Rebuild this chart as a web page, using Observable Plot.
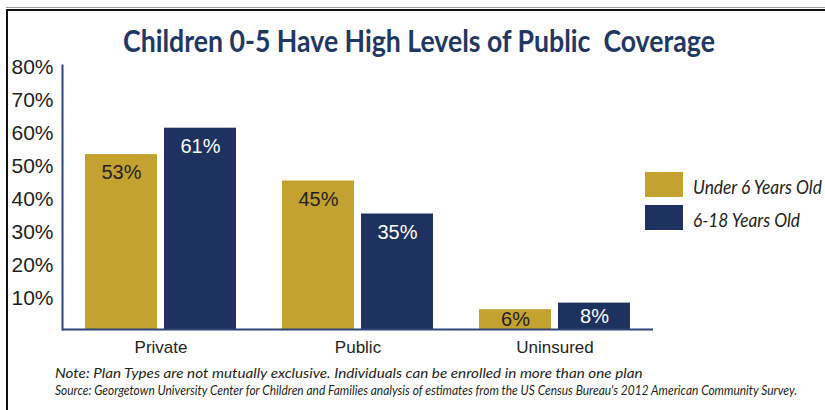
<!DOCTYPE html>
<html><head><meta charset="utf-8">
<script src="https://cdn.jsdelivr.net/npm/d3@7"></script>
<script src="https://cdn.jsdelivr.net/npm/@observablehq/plot@0.6"></script>
<style>
body{margin:0;background:#fff;}
#wrap{position:relative;width:825px;height:410px;overflow:hidden;font-family:"Liberation Sans",sans-serif;background:#fff;}
#wrap svg{position:absolute;left:0;top:0;}
</style></head><body><div id="wrap"></div>
<script>
const categories = ["Private", "Public", "Uninsured"];
const seriesNames = ["Under 6 Years Old", "6-18 Years Old"];
const under6 = [53, 45, 6];
const age6to18 = [61, 35, 8];
const yTicks = [10, 20, 30, 40, 50, 60, 70, 80];
const colors = ["#C4A22F", "#1E3260"];
const titleText = "Children 0-5 Have High Levels of Public  Coverage";
const noteText = "Note: Plan Types are not mutually exclusive. Individuals can be enrolled in more than one plan";
const sourceText = "Source: Georgetown University Center for Children and Families analysis of estimates from the US Census Bureau's 2012 American Community Survey.";

const data = categories.flatMap((c, i) => [
  {category: c, series: seriesNames[0], value: under6[i]},
  {category: c, series: seriesNames[1], value: age6to18[i]}
]);
const labelY = d => Math.max(d.value - 5.5, d.value / 2);

const chart = Plot.plot({
  width: 825, height: 365,
  marginLeft: 61, marginRight: 172, marginTop: 65, marginBottom: 36,
  style: {fontFamily: "'Liberation Sans', sans-serif", background: "transparent", color: "#231F20"},
  fx: {domain: categories, padding: 0, label: null, axis: null},
  x: {domain: seriesNames, paddingInner: 0.0886, paddingOuter: 0.291, axis: null},
  y: {domain: [0, 80], label: null, axis: null},
  color: {domain: seriesNames, range: colors},
  marks: [
    Plot.barY(data, {fx: "category", x: "series", y: "value", fill: "series"}),
    Plot.text(data.filter(d => d.series === seriesNames[0]), {fx: "category", x: "series", y: labelY, text: d => d.value + "%", fill: "#231F20", fontSize: 20}),
    Plot.text(data.filter(d => d.series === seriesNames[1]), {fx: "category", x: "series", y: labelY, text: d => d.value + "%", fill: "#FFFFFF", fontSize: 20}),
    Plot.ruleY([0], {stroke: "#2E4677", strokeWidth: 2}),
    Plot.frame({anchor: "left", facetAnchor: "left", stroke: "#2E4677", strokeWidth: 2}),
    Plot.axisY({ticks: yTicks, tickSize: 0, tickPadding: 9, tickFormat: d => d + "%", fontSize: 21, fill: "#231F20", dy: 1.5, label: null}),
    Plot.axisFx({anchor: "bottom", tickSize: 0, tickPadding: 11, fontSize: 17, fill: "#231F20", label: null})
  ]
});
const wrap = document.getElementById("wrap");
wrap.appendChild(chart);

const svg = d3.select(wrap).append("svg").attr("width", 825).attr("height", 410).style("pointer-events", "none");
svg.append("rect").attr("x", 6).attr("y", 7).attr("width", 819).attr("height", 1).attr("fill", "#9a9a9a");
svg.append("rect").attr("x", 6).attr("y", 9).attr("width", 819).attr("height", 2).attr("fill", "#111");
svg.append("rect").attr("x", 6).attr("y", 9).attr("width", 2).attr("height", 401).attr("fill", "#111");

// text fitted horizontally to a target width by scaling
function fitText(str, x, y, width, style) {
  const t = svg.append("text").text(str).attr("x", 0).attr("y", 0)
    .style("white-space", "pre").style("font-family", "Lato, sans-serif");
  Object.entries(style).forEach(([k, v]) => k === "fill" ? t.attr("fill", v) : t.style(k, v));
  const natural = t.node().getComputedTextLength();
  t.attr("transform", `translate(${x},${y}) scale(${width / natural},1)`);
  return t;
}

fitText(titleText, 123, 52, 592, {"font-weight": "bold", "font-size": "30px", fill: "#1F3864"});

seriesNames.forEach((s, i) => {
  svg.append("rect").attr("x", 645).attr("y", 172 + i * 33).attr("width", 38).attr("height", 25).attr("fill", colors[i]);
  fitText(s, 693, 194 + i * 33, i === 0 ? 129 : 107, {"font-style": "italic", "font-size": "19px", fill: "#231F20"});
});

fitText(noteText, 55, 378, 588, {"font-style": "italic", "font-size": "14px", fill: "#231F20"});
fitText(sourceText, 55, 395, 743, {"font-style": "italic", "font-size": "12.5px", fill: "#231F20"});
</script></body></html>
